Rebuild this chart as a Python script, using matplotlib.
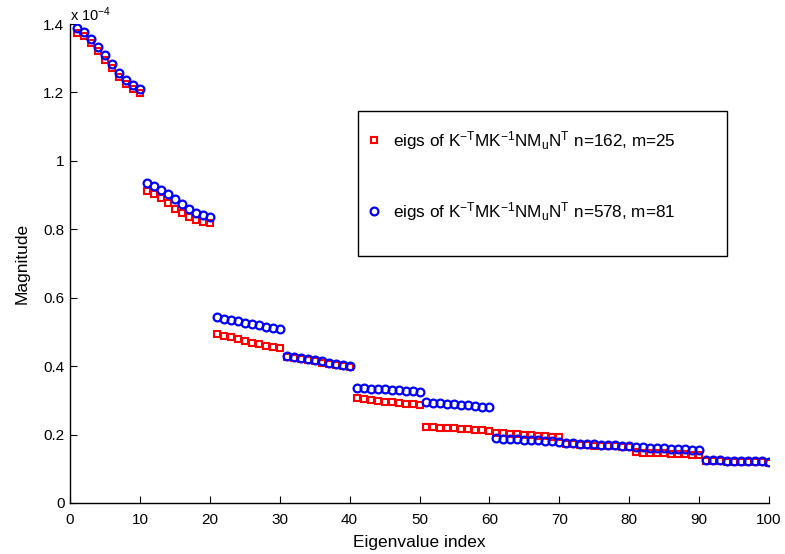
import matplotlib
matplotlib.use("Agg")
import matplotlib.pyplot as plt
from matplotlib.lines import Line2D
from matplotlib.patches import Rectangle

plt.rcParams["font.family"] = ["Liberation Sans", "DejaVu Sans"]
plt.rcParams["mathtext.default"] = "regular"

# Eigenvalue magnitudes, in units of 1e-4
index = list(range(1, 101))

eigs_n162 = [
    1.375, 1.365, 1.345, 1.320, 1.295, 1.270, 1.245, 1.225, 1.210, 1.199,
    0.911, 0.902, 0.890, 0.876, 0.860, 0.847, 0.836, 0.827, 0.821, 0.817,
    0.494, 0.489, 0.484, 0.479, 0.473, 0.468, 0.464, 0.460, 0.457, 0.454,
    0.428, 0.425, 0.421, 0.418, 0.414, 0.410, 0.406, 0.403, 0.400, 0.398,
    0.306, 0.303, 0.301, 0.298, 0.296, 0.294, 0.292, 0.290, 0.288, 0.287,
    0.223, 0.222, 0.220, 0.219, 0.218, 0.216, 0.215, 0.214, 0.212, 0.211,
    0.206, 0.204, 0.203, 0.201, 0.200, 0.198, 0.197, 0.195, 0.194, 0.192,
    0.172, 0.171, 0.170, 0.169, 0.168, 0.168, 0.167, 0.166, 0.165, 0.164,
    0.148, 0.147, 0.146, 0.146, 0.145, 0.144, 0.143, 0.142, 0.141, 0.140,
    0.123, 0.122, 0.122, 0.121, 0.121, 0.120, 0.120, 0.119, 0.119, 0.118,
]

eigs_n578 = [
    1.389, 1.376, 1.357, 1.334, 1.308, 1.282, 1.256, 1.236, 1.221, 1.211,
    0.934, 0.927, 0.916, 0.903, 0.888, 0.874, 0.860, 0.849, 0.841, 0.836,
    0.543, 0.539, 0.535, 0.531, 0.527, 0.523, 0.519, 0.515, 0.512, 0.508,
    0.430, 0.427, 0.424, 0.420, 0.417, 0.414, 0.410, 0.407, 0.404, 0.401,
    0.336, 0.335, 0.334, 0.333, 0.332, 0.330, 0.329, 0.328, 0.327, 0.325,
    0.294, 0.293, 0.291, 0.290, 0.288, 0.287, 0.285, 0.284, 0.282, 0.280,
    0.189, 0.188, 0.187, 0.186, 0.185, 0.184, 0.183, 0.182, 0.180, 0.179,
    0.175, 0.174, 0.173, 0.172, 0.171, 0.170, 0.170, 0.169, 0.168, 0.167,
    0.164, 0.163, 0.162, 0.161, 0.160, 0.159, 0.158, 0.157, 0.156, 0.155,
    0.126, 0.125, 0.125, 0.124, 0.124, 0.123, 0.123, 0.122, 0.122, 0.121,
]

label_n162 = "eigs of K$^{-T}$MK$^{-1}$NM$_u$N$^T$ n=162, m=25"
label_n578 = "eigs of K$^{-T}$MK$^{-1}$NM$_u$N$^T$ n=578, m=81"

xticks = list(range(0, 101, 10))
yticks = [0, 0.2, 0.4, 0.6, 0.8, 1.0, 1.2, 1.4]

fig = plt.figure(figsize=(7.85, 5.54), dpi=100)
ax = fig.add_axes([70 / 785, 51 / 554, 699 / 785, 479 / 554])

sq_style = dict(linestyle="none", marker="s", markersize=4.5,
                markerfacecolor="none", markeredgecolor="#ff0000",
                markeredgewidth=1.5)
ci_style = dict(linestyle="none", marker="o", markersize=5.6,
                markerfacecolor="none", markeredgecolor="#0000ff",
                markeredgewidth=1.6)

ax.plot(index, eigs_n162, **sq_style)
ax.plot(index, eigs_n578, **ci_style)

ax.set_xlim(0, 100)
ax.set_ylim(0, 1.4)
ax.set_xticks(xticks)
ax.set_yticks(yticks)
ax.set_yticklabels([f"{v:g}" for v in yticks])
ax.tick_params(direction="in", length=5, width=0.8, labelsize=11, colors="black")
ax.tick_params(axis="x", pad=7)
ax.tick_params(axis="y", pad=4)
for side in ("top", "right"):
    ax.spines[side].set_visible(False)
for side in ("left", "bottom"):
    ax.spines[side].set_linewidth(1.0)

ax.set_xlabel("Eigenvalue index", fontsize=12.5, labelpad=6)
ax.set_ylabel("Magnitude", fontsize=12.5, labelpad=10)

ax.text(0.0, 1.0, r"x 10$^{-4}$", transform=ax.transAxes, fontsize=10.5,
        ha="left", va="bottom")

# legend box
box = Rectangle((358 / 785, 1 - 256 / 554), 369 / 785, 145 / 554,
                transform=fig.transFigure, facecolor="white",
                edgecolor="black", linewidth=1.0, zorder=5)
fig.patches.append(box)

handles = [Line2D([], [], **sq_style), Line2D([], [], **ci_style)]
leg = fig.legend(handles, [label_n162, label_n578], loc="upper left",
                 bbox_to_anchor=(367 / 785, 1 - 129 / 554), frameon=False,
                 fontsize=12.3, labelspacing=2.8, handlelength=0.8,
                 handletextpad=0.7, borderpad=0.0, borderaxespad=0.0)
leg.set_zorder(6)

fig.savefig("out.png", dpi=100, facecolor="white")
